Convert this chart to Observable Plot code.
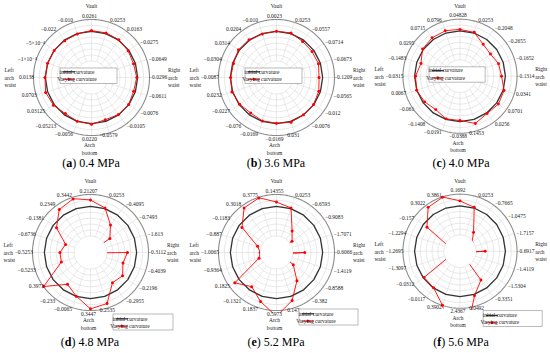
<!DOCTYPE html>
<html><head><meta charset="utf-8">
<script src="https://cdn.jsdelivr.net/npm/d3@7"></script>
<script src="https://cdn.jsdelivr.net/npm/@observablehq/plot@0.6"></script>
<style>
html,body{margin:0;padding:0;background:#fff;}
#fig{position:relative;width:550px;height:353px;overflow:hidden;background:#fff;font-family:"Liberation Serif","Times New Roman","DejaVu Serif",serif;}
.panel{position:absolute;}
.panel svg{overflow:visible;}
.cap{position:absolute;font-size:12px;line-height:1;transform:translate(-50%,-50%);white-space:nowrap;color:#000;}
</style></head><body><div id="fig"></div>
<script>
// ---- data ----
const angles = [0,18,36,54,72,90,108,126,144,162,180,198,216,234,252,270,288,306,324,342];
const initialCurvature = 0;
const ringLevels = [-1,-0.8,-0.6,-0.4,-0.2,0,0.2];
const outerLevel = 0.4;
const radialDomain = [-1, 0.4];

const labelsA = ["0.0261","0.0253","0.0163","−0.0275","−0.0649","−0.0296","−0.0611","−0.0076","−0.0105","−0.0579","0.0220","−0.0056","−0.05213","0.03125","0.0703","0.0138","−1×10⁻⁴","−5×10⁻⁴","−0.022","−0.010"];
const valuesA = [0.0261,0.0253,0.0163,-0.0275,-0.0649,-0.0296,-0.0611,-0.0076,-0.0105,-0.0579,0.0220,-0.0056,-0.05213,0.03125,0.0703,0.0138,-0.0001,-0.0005,-0.022,-0.010];

const labelsB = ["0.0023","0.0253","−0.0557","−0.0714","−0.0673","−0.1209","−0.0565","−0.012","−0.0076","0.031","−0.0169","−0.0169","−0.076","−0.0227","0.0232","−0.0087","−0.0304","0.0314","0.0204","−0.010"];
const valuesB = [0.0023,0.0253,-0.0557,-0.0714,-0.0673,-0.1209,-0.0565,-0.012,-0.0076,0.031,-0.0169,-0.0169,-0.076,-0.0227,0.0232,-0.0087,-0.0304,0.0314,0.0204,-0.010];

const labelsC = ["0.04828","0.0253","−0.2048","−0.2655","−0.1652","−0.1314","0.0341","0.0701","0.0256","0.1453","−0.0388","−0.0191","−0.1408","−0.061","0.0067","−0.0315","−0.1483","0.0295","0.0715","0.0796"];
const valuesC = [0.04828,0.0253,-0.2048,-0.2655,-0.1652,-0.1314,0.0341,0.0701,0.0256,0.1453,-0.0388,-0.0191,-0.1408,-0.061,0.0067,-0.0315,-0.1483,0.0295,0.0715,0.0796];

const labelsD = ["0.21207","0.0253","−0.4095","−0.7493","−1.613","−0.3112","−0.4039","−0.2196","−0.2955","0.2535","0.3447","−0.0065","−0.233","0.3973","−0.5233","−0.5253","−0.6736","−0.1381","0.2349","0.3442"];
const valuesD = [0.21207,0.0253,-0.4095,-0.7493,-1.613,-0.3112,-0.4039,-0.2196,-0.2955,0.2535,0.3447,-0.0065,-0.233,0.3973,-0.5233,-0.5253,-0.6736,-0.1381,0.2349,0.3442];

const labelsE = ["0.14355","0.0253","−0.6593","−0.9083","−1.7071","−0.6066","−1.4119","−0.8588","−0.382","0.147","0.5973","0.1837","−0.1321","0.1825","−0.9364","−1.0065","−0.887","−0.1183","0.3018","0.3775"];
const valuesE = [0.14355,0.0253,-0.6593,-0.9083,-1.7071,-0.6066,-1.4119,-0.8588,-0.382,0.147,0.5973,0.1837,-0.1321,0.1825,-0.9364,-1.0065,-0.887,-0.1183,0.3018,0.3775];

const labelsF = ["0.1692","0.0253","−0.7665","−1.0475","−1.7157","−0.6917","−1.4119","−1.5304","−0.3351","0.0492","2.4367","0.3902","−0.0117","−0.0312","−1.3097","−1.2695","−1.2294","−0.157","0.3022","0.3861"];
const valuesF = [0.1692,0.0253,-0.7665,-1.0475,-1.7157,-0.6917,-1.4119,-1.5304,-0.3351,0.0492,2.4367,0.3902,-0.0117,-0.0312,-1.3097,-1.2695,-1.2294,-0.157,0.3022,0.3861];

const positionNames = ["Vault","Right\narch\nwaist","Arch\nbottom","Left\narch\nwaist"];
const positionAngles = [0, 90, 180, 270];
const seriesNames = ["initial curvature", "Varying curvature"];

const panels = [
  {letter:"a", title:"0.4 MPa", labels:labelsA, values:valuesA, cx:91,  cy:77,  leg:{dx:-31, dy:-9,  w:57, h:15.5, r1:3.8, r2:11.3}},
  {letter:"b", title:"3.6 MPa", labels:labelsB, values:valuesB, cx:276, cy:77,  leg:{dx:-31, dy:-9,  w:57, h:15.5, r1:3.8, r2:11.3}},
  {letter:"c", title:"4.0 MPa", labels:labelsC, values:valuesC, cx:461, cy:77,  leg:{dx:-31, dy:-9,  w:57, h:15.5, r1:3.8, r2:11.3}},
  {letter:"d", title:"4.8 MPa", labels:labelsD, values:valuesD, cx:90,  cy:252, leg:{dx:23, dy:62, w:60, h:16, r1:4.8, r2:12.2}},
  {letter:"e", title:"5.2 MPa", labels:labelsE, values:valuesE, cx:276, cy:252, leg:{dx:23, dy:57, w:59, h:16, r1:4.8, r2:12.2}},
  {letter:"f", title:"5.6 MPa", labels:labelsF, values:valuesF, cx:461, cy:252, leg:{dx:24, dy:61, w:60, h:16, r1:4.8, r2:12.2}}
];

// ---- drawing ----
const FONT = '"Liberation Serif", "Times New Roman", "DejaVu Serif", serif';
const R = 58, W = 184, H = 156, CX = 92, CY = 78;
const holeFrac = 16.5 / 58;
const toRad = a => a * Math.PI / 180;
const X = (r, a) => r * Math.sin(toRad(a));
const Y = (r, a) => r * Math.cos(toRad(a));

function annulus(cx, cy, ro, ri) {
  const c = r => `M${cx - r},${cy}a${r},${r} 0 1,0 ${2*r},0a${r},${r} 0 1,0 ${-2*r},0Z`;
  return c(ro) + c(ri);
}

// label radius (in outer-radius units) and anchor depending on the spoke angle
function labelRadius(a) {
  if (a === 0 || a === 180) return 61.5 / R;
  if (a === 162) return 61 / R;
  if (a === 90) return 57.5 / R;
  if (Math.sin(toRad(a)) < -0.7) return 57.5 / R;
  return 60 / R;
}
function labelAnchor(a) {
  if (a === 0 || a === 180 || a === 162) return "middle";
  return Math.sin(toRad(a)) > 0 ? "start" : "end";
}

const fig = document.getElementById("fig");

panels.forEach(p => {
  const xs = d3.scaleLinear().domain([-CX / R, (W - CX) / R]).range([0, W]);
  const ys = d3.scaleLinear().domain([-(H - CY) / R, CY / R]).range([H, 0]);
  const rs = d3.scaleLinear().domain(radialDomain).range([holeFrac, 1]);
  const pts = angles.map((a, i) => ({a, v: p.values[i], label: p.labels[i]}));
  const step = d3.range(0, 360, 2);
  const ringPts = ringLevels.flatMap(level => step.map(a => ({level, a})));
  const outerPts = step.map(a => ({level: outerLevel, a}));
  const cats = positionAngles.map((a, i) => ({a, name: positionNames[i]}));
  const textOpts = {fontSize: 5.5, fontFamily: FONT, fill: "#1a1a1a"};
  const labelMark = anchor => Plot.text(pts.filter(d => labelAnchor(d.a) === anchor), {
    x: d => X(labelRadius(d.a), d.a), y: d => Y(labelRadius(d.a), d.a),
    dx: anchor === "middle" ? -2 : 0,
    text: "label", textAnchor: anchor, ...textOpts});

  const plot = Plot.plot({
    width: W, height: H, margin: 0,
    x: {type: "linear", domain: xs.domain(), axis: null},
    y: {type: "linear", domain: ys.domain(), axis: null},
    style: {background: "transparent", overflow: "visible", fontFamily: FONT},
    marks: [
      Plot.line(ringPts, {x: d => X(rs(d.level), d.a), y: d => Y(rs(d.level), d.a), z: "level", curve: "linear-closed", stroke: "#d6d6d6", strokeWidth: 0.6}),
      Plot.link(angles, {x1: a => X(rs(radialDomain[0]), a), y1: a => Y(rs(radialDomain[0]), a), x2: a => X(rs(outerLevel), a), y2: a => Y(rs(outerLevel), a), stroke: "#dcdcdc", strokeWidth: 0.6}),
      Plot.line(outerPts, {x: d => X(rs(d.level), d.a), y: d => Y(rs(d.level), d.a), curve: "linear-closed", stroke: "#8c8c8c", strokeWidth: 1.1}),
      Plot.line(angles, {x: a => X(rs(initialCurvature), a), y: a => Y(rs(initialCurvature), a), curve: "linear-closed", stroke: "#333333", strokeWidth: 1.3}),
      Plot.line(pts, {x: d => X(rs(d.v), d.a), y: d => Y(rs(d.v), d.a), curve: "linear-closed", stroke: "#ff0000", strokeWidth: 0.9}),
      Plot.dot(pts, {x: d => X(rs(d.v), d.a), y: d => Y(rs(d.v), d.a), r: 1.5, fill: "#ff0000", stroke: "none"}),
      labelMark("middle"),
      labelMark("start"),
      labelMark("end"),
      Plot.text(cats.filter(d => d.a === 0), {x: 0, y: 71 / R, text: "name", textAnchor: "middle", ...textOpts}),
      Plot.text(cats.filter(d => d.a === 180), {x: 0, y: -71 / R, dx: -2, text: "name", textAnchor: "middle", lineHeight: 1.45, ...textOpts}),
      Plot.text(cats.filter(d => d.a === 90), {x: 76.5 / R, y: 0, text: "name", textAnchor: "start", lineHeight: 1.36, ...textOpts}),
      Plot.text(cats.filter(d => d.a === 270), {x: -87 / R, y: 0, text: "name", textAnchor: "start", lineHeight: 1.36, ...textOpts})
    ]
  });

  const svg = d3.select(plot);
  const cxp = xs(0), cyp = ys(0);
  const ro = xs(60.5 / R) - cxp, ri = xs(rs(radialDomain[0])) - cxp;
  const id = "clip-" + p.letter;
  svg.append("defs").append("clipPath").attr("id", id)
    .append("path").attr("clip-rule", "evenodd").attr("d", annulus(cxp, cyp, ro, ri));
  svg.selectAll('g[stroke="#ff0000"], g[fill="#ff0000"]').attr("clip-path", `url(#${id})`);

  // legend
  const L = p.leg;
  const lx = cxp + L.dx, ly = cyp + L.dy;
  const g = svg.append("g").attr("font-family", FONT).attr("font-size", 5.5);
  g.append("rect").attr("x", lx).attr("y", ly).attr("width", L.w).attr("height", L.h)
    .attr("fill", "#fff").attr("stroke", "#8c8c8c").attr("stroke-width", 0.6);
  g.append("line").attr("x1", lx + 3).attr("x2", lx + 15).attr("y1", ly + L.r1).attr("y2", ly + L.r1)
    .attr("stroke", "#333").attr("stroke-width", 1.3);
  g.append("line").attr("x1", lx + 3).attr("x2", lx + 15).attr("y1", ly + L.r2).attr("y2", ly + L.r2)
    .attr("stroke", "#ff0000").attr("stroke-width", 0.9);
  g.append("circle").attr("cx", lx + 9).attr("cy", ly + L.r2).attr("r", 1.4).attr("fill", "#ff0000");
  g.append("text").attr("x", lx + 17).attr("y", ly + L.r1).attr("dy", "0.32em").attr("fill", "#1a1a1a").text(seriesNames[0]);
  g.append("text").attr("x", lx + 17).attr("y", ly + L.r2).attr("dy", "0.32em").attr("fill", "#1a1a1a").text(seriesNames[1]);

  const div = document.createElement("div");
  div.className = "panel";
  div.style.left = (p.cx - CX) + "px";
  div.style.top = (p.cy - CY) + "px";
  div.appendChild(plot);
  fig.appendChild(div);

  const cap = document.createElement("div");
  cap.className = "cap";
  cap.style.left = p.cx + "px";
  cap.style.top = (p.cy < 150 ? 162.5 : 342) + "px";
  cap.innerHTML = `(<b>${p.letter}</b>) ${p.title}`;
  fig.appendChild(cap);
});
</script>
</body></html>
